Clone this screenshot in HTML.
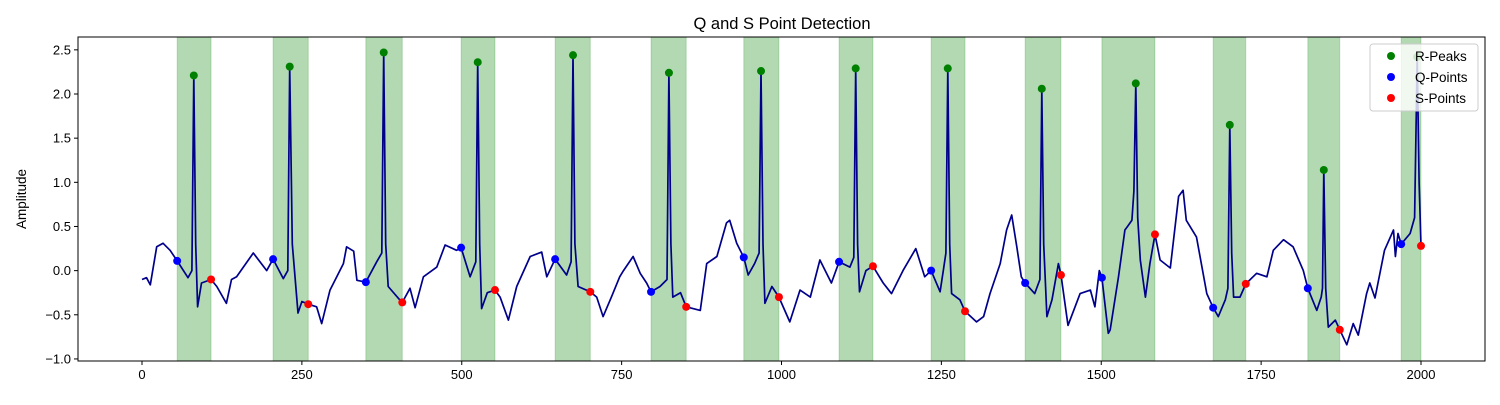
<!DOCTYPE html>
<html><head><meta charset="utf-8"><style>
body{margin:0;background:#fff;}
svg text{font-family:"Liberation Sans","DejaVu Sans",sans-serif;}
</style></head><body>
<svg id="chart" width="1500" height="400" xmlns="http://www.w3.org/2000/svg">
<rect width="1500" height="400" fill="#fff"/>
<text x="782" y="29" font-size="16.5" text-anchor="middle">Q and S Point Detection</text>
<text transform="translate(26,199) rotate(-90)" font-size="13.5" text-anchor="middle">Amplitude</text>
<g id="shades"></g><g id="grid"></g><g id="sig"></g><g id="marks"></g>
<rect x="78" y="37" width="1407" height="324" fill="none" stroke="#000" stroke-width="1"/>
<g id="ticks"></g>
<g>
<rect x="1370" y="44" width="108" height="67" rx="3" fill="#fff" fill-opacity="0.8" stroke="#ccc"/>
<circle cx="1391" cy="56" r="4" fill="green"/><text x="1415" y="61" font-size="13.5">R-Peaks</text>
<circle cx="1391" cy="77" r="4" fill="blue"/><text x="1415" y="82" font-size="13.5">Q-Points</text>
<circle cx="1391" cy="98" r="4" fill="red"/><text x="1415" y="103" font-size="13.5">S-Points</text>
</g>
</svg>
<script>
const xTicks=[0,250,500,750,1000,1250,1500,1750,2000];
const yTicks=[-1.0,-0.5,0.0,0.5,1.0,1.5,2.0,2.5];
const rX=[81,231,378,525,674,824,968,1116,1260,1407,1554,1701,1848,1994];
const rY=[2.21,2.31,2.47,2.36,2.44,2.24,2.26,2.29,2.29,2.06,2.12,1.65,1.14,2.42];
const qX=[55,205,350,499,646,796,941,1090,1234,1381,1501,1675,1823,1969];
const qY=[0.11,0.13,-0.13,0.26,0.13,-0.24,0.15,0.1,0.0,-0.14,-0.08,-0.42,-0.2,0.3];
const sX=[108,260,407,552,701,851,996,1143,1287,1437,1584,1726,1873,2000];
const sY=[-0.1,-0.38,-0.36,-0.22,-0.24,-0.41,-0.3,0.05,-0.46,-0.05,0.41,-0.15,-0.67,0.28];
const sigX=[0,7,13,23,33,44,55,72,78,81,84,87,93,108,117,132,140,148,174,195,205,221,228,231,235,244,250,260,273,281,294,315,320,331,336,350,367,375,378,381,385,403,407,419,427,440,461,474,492,499,513,522,525,528,531,540,552,560,573,586,607,625,633,646,664,671,674,677,682,701,711,721,734,747,753,768,779,789,796,810,821,824,827,830,842,851,873,883,899,914,919,930,941,948,958,965,968,971,974,985,996,1013,1029,1045,1060,1078,1090,1107,1113,1116,1119,1122,1132,1143,1159,1172,1190,1210,1224,1234,1248,1253,1257,1260,1263,1266,1279,1287,1305,1316,1326,1342,1352,1360,1368,1375,1381,1396,1404,1407,1410,1415,1423,1433,1437,1448,1467,1483,1490,1497,1501,1511,1514,1527,1537,1541,1548,1551,1554,1557,1561,1569,1576,1584,1592,1608,1621,1628,1633,1649,1665,1675,1683,1694,1698,1701,1704,1707,1717,1726,1743,1759,1769,1785,1800,1816,1823,1837,1844,1846,1848,1851,1855,1866,1873,1884,1894,1902,1915,1920,1928,1943,1957,1960,1964,1969,1983,1990,1994,1997,2000];
const sigY=[-0.1,-0.08,-0.16,0.27,0.31,0.23,0.11,-0.08,0.0,2.21,0.3,-0.41,-0.14,-0.1,-0.18,-0.37,-0.1,-0.07,0.2,0.0,0.13,-0.09,0.0,2.31,0.3,-0.48,-0.35,-0.38,-0.41,-0.6,-0.22,0.08,0.27,0.22,-0.11,-0.13,0.1,0.2,2.47,0.3,-0.18,-0.33,-0.36,-0.2,-0.42,-0.07,0.04,0.29,0.23,0.26,-0.07,0.1,2.36,0.3,-0.43,-0.25,-0.22,-0.3,-0.56,-0.18,0.16,0.21,-0.07,0.13,-0.05,0.1,2.44,0.3,-0.18,-0.24,-0.3,-0.52,-0.3,-0.07,0.0,0.16,-0.03,-0.14,-0.24,-0.18,-0.1,2.24,0.3,-0.3,-0.25,-0.41,-0.45,0.08,0.16,0.54,0.57,0.31,0.15,-0.05,0.08,0.2,2.26,0.3,-0.37,-0.18,-0.3,-0.58,-0.22,-0.3,0.12,-0.14,0.1,0.04,0.15,2.29,0.3,-0.24,0.0,0.05,-0.14,-0.26,0.0,0.25,-0.07,0.0,-0.24,0.0,0.2,2.29,0.3,-0.26,-0.33,-0.46,-0.58,-0.52,-0.26,0.08,0.46,0.63,0.27,-0.07,-0.14,-0.26,-0.1,2.06,0.3,-0.52,-0.33,0.08,-0.05,-0.62,-0.26,-0.22,-0.41,0.0,-0.08,-0.71,-0.67,-0.07,0.46,0.5,0.57,0.9,2.12,0.6,0.12,-0.3,0.08,0.41,0.12,0.03,0.84,0.91,0.57,0.38,-0.26,-0.42,-0.52,-0.33,-0.2,1.65,0.2,-0.3,-0.3,-0.15,-0.03,-0.07,0.23,0.35,0.27,0.0,-0.2,-0.45,-0.3,-0.2,1.14,-0.2,-0.64,-0.56,-0.67,-0.84,-0.6,-0.73,-0.26,-0.14,-0.31,0.23,0.46,0.16,0.42,0.3,0.42,0.6,2.42,1.0,0.28];
const NS='http://www.w3.org/2000/svg';
const X0=78,X1=1485,Y0=37,Y1=361,XMIN=-100.08,XMAX=2100.08,YMIN=-1.0233,YMAX=2.6455;
const xs=v=>X0+(v-XMIN)/(XMAX-XMIN)*(X1-X0);
const ys=v=>Y1-(v-YMIN)/(YMAX-YMIN)*(Y1-Y0);
function mk(tag,parent,attrs){const e=document.createElementNS(NS,tag);for(const k in attrs)e.setAttribute(k,attrs[k]);document.getElementById(parent).appendChild(e);return e;}
for(let i=0;i<qX.length;i++){
  const a=xs(qX[i]),b=xs(sX[i]);
  const r=mk('rect','shades',{x:a,y:Y0,width:b-a,height:Y1-Y0,fill:'green','fill-opacity':0.3,stroke:'green','stroke-opacity':0.2});
  
  
}
let d='';
for(let i=0;i<sigX.length;i++)d+=(i?'L':'M')+xs(sigX[i]).toFixed(1)+','+ys(sigY[i]).toFixed(1);
const p=mk('path','sig',{d:d,fill:'none',stroke:'#00008b','stroke-width':1.7,'stroke-linejoin':'round'});


function pts(X,Y,col,name){for(let i=0;i<X.length;i++){
  const c=mk('circle','marks',{cx:xs(X[i]),cy:ys(Y[i]),r:4,fill:col});
  
  
}}
pts(rX,rY,'green','r-peak');pts(qX,qY,'blue','q-point');pts(sX,sY,'red','s-point');
xTicks.forEach(v=>{const x=xs(v);
  mk('line','ticks',{x1:x,x2:x,y1:Y1,y2:Y1+4,stroke:'#000'});
  const t=mk('text','ticks',{x:x,y:Y1+18,'font-size':13,'text-anchor':'middle'});t.textContent=v;
  
  
});
yTicks.forEach(v=>{const y=ys(v);
  mk('line','ticks',{x1:X0-4,x2:X0,y1:y,y2:y,stroke:'#000'});
  const t=mk('text','ticks',{x:X0-7,y:y+4.5,'font-size':13,'text-anchor':'end'});t.textContent=v.toFixed(1).replace('-','−');
  
  
});
</script>
</body></html>
